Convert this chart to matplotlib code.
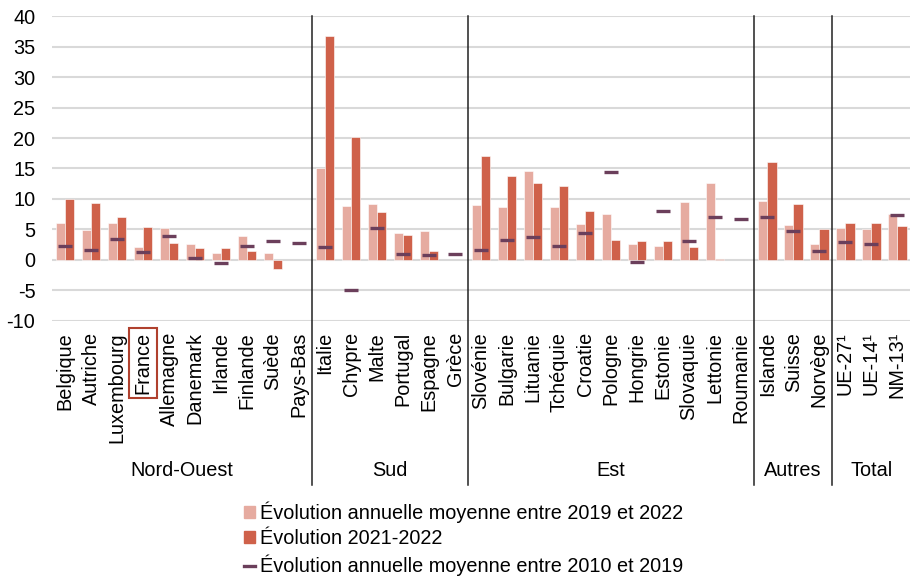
import numpy as np
import matplotlib
matplotlib.use("Agg")
import matplotlib.pyplot as plt
import matplotlib.transforms as mtransforms
from matplotlib.patches import Patch
from matplotlib.lines import Line2D

plt.rcParams['font.family'] = ['Liberation Sans', 'DejaVu Sans']
plt.rcParams['axes.unicode_minus'] = False

pays = ['Belgique', 'Autriche', 'Luxembourg', 'France', 'Allemagne', 'Danemark',
        'Irlande', 'Finlande', 'Suède', 'Pays-Bas',
        'Italie', 'Chypre', 'Malte', 'Portugal', 'Espagne', 'Grèce',
        'Slovénie', 'Bulgarie', 'Lituanie', 'Tchéquie', 'Croatie', 'Pologne',
        'Hongrie', 'Estonie', 'Slovaquie', 'Lettonie', 'Roumanie',
        'Islande', 'Suisse', 'Norvège',
        'UE-27¹', 'UE-14¹', 'NM-13¹']

# évolution annuelle moyenne 2019-2022
evol_19_22 = [6.0, 4.9, 6.0, 2.1, 5.2, 2.6, 1.2, 3.9, 1.2, np.nan,
              15.0, 8.9, 9.1, 4.4, 4.75, np.nan,
              9.0, 8.6, 14.6, 8.7, 5.9, 7.5, 2.6, 2.3, 9.5, 12.6, np.nan,
              9.7, 5.7, 2.6,
              5.25, 5.0, 7.6]
# évolution 2021-2022
evol_21_22 = [10.0, 9.4, 7.1, 5.4, 2.8, 1.9, 1.9, 1.5, -1.5, np.nan,
              36.8, 20.1, 7.8, 4.1, 1.4, np.nan,
              17.1, 13.7, 12.6, 12.1, 8.1, 3.2, 3.1, 3.1, 2.1, 0.2, np.nan,
              16.0, 9.1, 5.1,
              6.0, 6.1, 5.5]
# évolution annuelle moyenne 2010-2019
evol_10_19 = [2.2, 1.6, 3.5, 1.25, 4.0, 0.3, -0.55, 2.2, 3.05, 2.7,
              2.1, -5.0, 5.2, 0.95, 0.8, 0.95,
              1.6, 3.2, 3.7, 2.25, 4.4, 14.4, -0.4, 8.1, 3.05, 7.0, 6.7,
              7.0, 4.7, 1.4,
              2.9, 2.6, 7.3]

groupes = ['Nord-Ouest', 'Sud', 'Est', 'Autres', 'Total']
taille_groupes = [10, 6, 11, 3, 3]

c_clair = '#E6ABA0'
c_fonce = '#CF614A'
c_trait = '#6B3F5B'

fig = plt.figure(figsize=(9.12, 5.76), dpi=100)
ax = fig.add_axes([0.057, 0.443, 0.941, 0.529])

x = np.arange(len(pays))
w = 0.36
ax.bar(x - w/2, evol_19_22, w, color=c_clair, edgecolor='white', linewidth=0.4, zorder=2)
ax.bar(x + w/2, evol_21_22, w, color=c_fonce, edgecolor='white', linewidth=0.4, zorder=2)
ax.plot(x, evol_10_19, linestyle='none', marker='_', markersize=10,
        markeredgewidth=2.4, color=c_trait, zorder=3)

ax.set_xlim(-0.5, len(pays) - 0.5)
ax.set_ylim(-10, 40)
ax.set_yticks(np.arange(-10, 41, 5))
ax.yaxis.grid(True, color='#D9D9D9', linewidth=1.5, zorder=0)
ax.set_axisbelow(True)
for s in ax.spines.values():
    s.set_visible(False)

ax.set_xticks(x)
ax.set_xticklabels(pays, rotation=90, va='top', ha='center')
ax.tick_params(axis='x', length=0, pad=8, labelsize=14.3)
ax.tick_params(axis='y', length=0, pad=12, labelsize=14.3)

# cadre autour de France
for lab in ax.get_xticklabels():
    if lab.get_text() == 'France':
        lab.set_bbox(dict(facecolor='none', edgecolor='#B0412E', linewidth=1.5, pad=3))

# séparateurs et noms de groupes
debut = 0
trans = mtransforms.blended_transform_factory(ax.transData, ax.transAxes)
for i, (g, n) in enumerate(zip(groupes, taille_groupes)):
    fin = debut + n
    if i < len(groupes) - 1:
        ax.axvline(fin - 0.5, ymin=-0.54, ymax=1, color='#222222', linewidth=1.1, clip_on=False)
    ax.text((debut + fin - 1) / 2, -0.49, g, transform=trans, ha='center', va='center', fontsize=14.3)
    debut = fin

handles = [Patch(color=c_clair), Patch(color=c_fonce),
           Line2D([], [], color=c_trait, linewidth=2.4)]
labels = ['Évolution annuelle moyenne entre 2019 et 2022',
          'Évolution 2021-2022',
          'Évolution annuelle moyenne entre 2010 et 2019']
fig.legend(handles, labels, loc='upper left', bbox_to_anchor=(0.268, 0.13),
           frameon=False, fontsize=14.3, handlelength=0.55, handleheight=0.55,
           handletextpad=0.25, labelspacing=0.33, borderpad=0, borderaxespad=0)

fig.savefig('out.png', dpi=100)
